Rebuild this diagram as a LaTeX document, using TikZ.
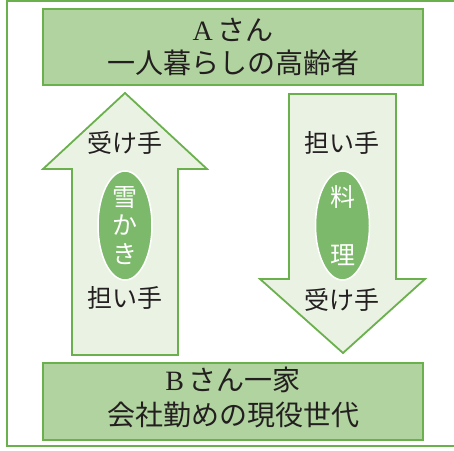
\documentclass[tikz,border=0pt]{standalone}
\usetikzlibrary{shapes.geometric}
\usepackage{fontspec}
\setmainfont{Liberation Serif}
\newfontfamily\cjk{Noto Sans CJK JP}
\definecolor{gline}{HTML}{6AB04C}
\definecolor{boxfill}{HTML}{B1D39F}
\definecolor{arrfill}{HTML}{EAF2E4}
\definecolor{ellfill}{HTML}{7DB96A}
\definecolor{txt}{HTML}{231F20}
\begin{document}
\begin{tikzpicture}[x=1pt,y=1pt,
  outer/.style={draw=gline,line width=2.2pt},
  bigbox/.style={draw=gline,line width=2pt,fill=boxfill,minimum width=380pt,inner sep=0pt},
  arrowbody/.style={draw=gline,line width=1.8pt,fill=arrfill,line join=miter},
  role/.style={text=txt,font=\cjk\fontsize{25}{25}\selectfont,inner sep=0pt},
  oval/.style={ellipse,draw=white,line width=1.5pt,fill=ellfill,minimum width=54pt,minimum height=109pt,inner sep=0pt},
  ovaltxt/.style={text=white,font=\cjk\fontsize{25}{25}\selectfont,inner sep=0pt},
  boxtxt/.style={text=txt,font=\cjk\fontsize{28}{28}\selectfont,inner sep=0pt}]
\useasboundingbox (0,0) rectangle (454,450);
% outer frame
\draw[outer] (470,449) -- (7,449) -- (7,4) -- (470,4);
% boxes
\node[bigbox,minimum height=76pt] (A) at (233,403) {};
\node[boxtxt] (Aname) at (233,420) {{\rmfamily A}\,さん};
\node[boxtxt] (Adesc) at (233,387) {一人暮らしの高齢者};
\node[bigbox,minimum height=77pt] (B) at (233,48.5) {};
\node[boxtxt] (Bname) at (233,70) {{\rmfamily B}\,さん一家};
\node[boxtxt] (Bdesc) at (233,35) {会社勤めの現役世代};
% left up arrow
\coordinate (upTip) at (125,357);
\draw[arrowbody] (upTip) -- (207,281) -- (178,281) -- (178,95) -- (72,95) -- (72,281) -- (43,281) -- cycle;
% right down arrow
\coordinate (downTip) at (343,97);
\draw[arrowbody] (downTip) -- (425,171) -- (396,171) -- (396,356) -- (289,356) -- (289,171) -- (260,171) -- cycle;
% ovals
\node[oval] (snow) at (125,224.5) {};
\node[ovaltxt] at (125,252) {雪};
\node[ovaltxt] at (125,225) {か};
\node[ovaltxt] at (125,196) {き};
\node[oval] (cook) at (342.5,224.5) {};
\node[ovaltxt] at (342.5,253) {料};
\node[ovaltxt] at (342.5,195) {理};
% role labels
\node[role] (recvL) at (125,307) {受け手};
\node[role] (giveL) at (125,152) {担い手};
\node[role] (giveR) at (342,307) {担い手};
\node[role] (recvR) at (342,150) {受け手};
\end{tikzpicture}
\end{document}
